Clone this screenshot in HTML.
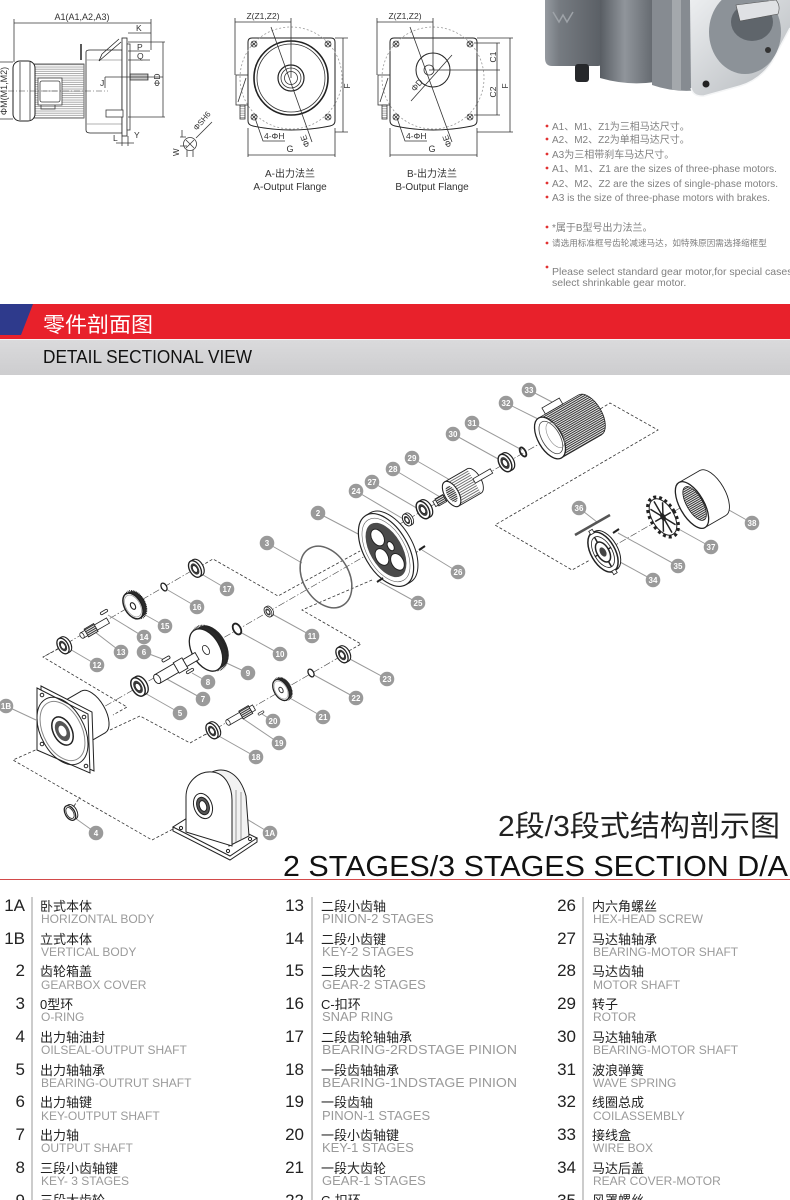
<!DOCTYPE html>
<html><head><meta charset="utf-8"><title>Gear motor detail sectional view</title>
<style>
html,body{margin:0;padding:0;background:#fff;width:790px;height:1200px;overflow:hidden}
svg{display:block}
</style></head>
<body>
<svg xmlns="http://www.w3.org/2000/svg" width="790" height="1200" viewBox="0 0 790 1200" style="font-family:'Liberation Sans','Noto Sans CJK SC',sans-serif">
<defs>
 <pattern id="hl" width="6" height="2.2" patternUnits="userSpaceOnUse"><line x1="0" y1="1" x2="6" y2="1" stroke="#888" stroke-width="0.7"/></pattern>
 <pattern id="vl" width="2" height="6" patternUnits="userSpaceOnUse"><rect width="2" height="6" fill="#fff"/><line x1="1" y1="0" x2="1" y2="6" stroke="#555" stroke-width="0.7"/></pattern>
 <pattern id="fin" width="6" height="2" patternUnits="userSpaceOnUse"><rect width="6" height="2" fill="#fff"/><rect width="6" height="1.1" fill="#333"/></pattern>
 <pattern id="fin2" width="6" height="2.4" patternUnits="userSpaceOnUse"><rect width="6" height="2.4" fill="#fff"/><rect width="6" height="0.9" fill="#666"/></pattern>
 <linearGradient id="jb" x1="0" y1="0" x2="1" y2="0"><stop offset="0" stop-color="#959aa0"/><stop offset="0.25" stop-color="#767b81"/><stop offset="1" stop-color="#5a5f65"/></linearGradient>
 <linearGradient id="bd" x1="0" y1="0" x2="1" y2="0"><stop offset="0" stop-color="#585d63"/><stop offset="0.45" stop-color="#90959b"/><stop offset="1" stop-color="#62676d"/></linearGradient>
 <linearGradient id="fl" x1="0" y1="0" x2="1" y2="1"><stop offset="0" stop-color="#eceef0"/><stop offset="1" stop-color="#b4b8bc"/></linearGradient>
 <linearGradient id="gb" x1="0" y1="0" x2="0" y2="1"><stop offset="0" stop-color="#dadadc"/><stop offset="1" stop-color="#cdcdcf"/></linearGradient>
 <g id="brg">
  <ellipse cx="3.5" rx="6" ry="10" fill="#fff" stroke="#222" stroke-width="1.3"/>
  <rect x="0" y="-10" width="3.5" height="20" fill="#fff"/>
  <path d="M0,-10H3.5M0,10H3.5" stroke="#222" stroke-width="1.3"/>
  <ellipse rx="6" ry="10" fill="#fff" stroke="#222" stroke-width="1.5"/>
  <ellipse rx="4" ry="6.8" fill="#3a3a3a"/>
  <ellipse rx="2.3" ry="4" fill="#fff" stroke="#222" stroke-width="0.7"/>
 </g>
 <g id="gear">
  <ellipse cx="3" rx="6" ry="10" fill="#2a2a2a"/>
  <rect x="0" y="-10" width="3" height="20" fill="#2a2a2a"/>
  <ellipse cx="2" rx="6.6" ry="10.6" fill="none" stroke="#222" stroke-width="1.4" stroke-dasharray="0.6 0.6"/>
  <ellipse rx="6" ry="10" fill="#fff" stroke="#222" stroke-width="1.1"/>
  <ellipse rx="5" ry="8.5" fill="none" stroke="#999" stroke-width="0.5"/>
  <ellipse rx="1.6" ry="2.6" fill="#fff" stroke="#222" stroke-width="0.8"/>
 </g>
 <g id="ring"><ellipse rx="2.6" ry="4.2" fill="#fff" stroke="#222" stroke-width="1.3"/></g>
 <g id="key"><rect x="-4" y="-1.3" width="8" height="2.6" rx="1.3" fill="#fff" stroke="#222" stroke-width="0.8"/></g>
</defs>
<rect width="790" height="1200" fill="#fff"/>

<!-- ============ TOP LEFT SIDE VIEW ============ -->
<g fill="none" stroke="#3a3a3a" stroke-width="0.8">
 <path d="M14,23H151M14,19V62M151,19V50"/>
 <path d="M0,62H13M0,119H13"/>
 <rect x="34" y="64" width="50" height="54" fill="#fff"/>
 <rect x="34" y="64" width="50" height="54" fill="url(#hl)" stroke="none"/>
 <rect x="13" y="61" width="22" height="60" rx="7" fill="#fff" stroke="#222" stroke-width="1"/>
 <path d="M20,62V120M30,62V120"/>
 <rect x="38" y="78" width="24" height="27" fill="#fff"/>
 <rect x="40" y="81" width="20" height="21" rx="2"/>
 <path d="M43,91H57" stroke="#999"/>
 <path d="M41,105V109H55V105"/>
 <path d="M86,52Q86,50 90,50H122V133H90Q86,133 86,130Z" fill="#fff" stroke="#222"/>
 <path d="M86,60H122M86,124H122" stroke="#999"/>
 <path d="M81,44V60" stroke="#222" stroke-width="1.5"/>
 <path d="M99,61L121,42M102,54L119,39M99,61L102,54" stroke="#222"/>
 <rect x="122" y="38" width="5" height="98" fill="#fff" stroke="#222"/>
 <rect x="127" y="44" width="3" height="86" fill="#fff"/>
 <rect x="106" y="110" width="17" height="7" fill="#fff"/>
 <rect x="130" y="74" width="18" height="6" fill="url(#vl)"/>
 <path d="M8,91H108" stroke-dasharray="6 2 1 2" stroke-width="0.6"/>
 <path d="M128,33H151M128,42H165M128,51H150M128,60H150M128,117H165M163,42V117"/>
 <path d="M105,77H163M105,77V88"/>
 <path d="M122,136V146M128,136V146M116,143H134"/>
 <circle cx="190" cy="144" r="6.5" fill="#fff"/>
 <path d="M186,140L194,148M194,140L186,148"/>
 <path d="M187,150V157M193,150V157M196,138L212,122"/>
 <path d="M180,137H186M180,146H187M182,130V137"/>
</g>
<g font-size="8.5" fill="#333">
 <text x="82" y="20" text-anchor="middle" font-size="9">A1(A1,A2,A3)</text>
 <text x="136" y="31">K</text>
 <text x="137" y="50">P</text>
 <text x="137" y="59">Q</text>
 <text x="100" y="86">J</text>
 <text x="134" y="138">Y</text>
 <text x="113" y="141">L</text>
 <text transform="translate(160,80) rotate(-90)" text-anchor="middle">ΦD</text>
 <text transform="translate(7,91) rotate(-90)" text-anchor="middle" font-size="9">ΦM(M1,M2)</text>
 <text transform="translate(197,131) rotate(-50)" font-size="8">ΦSH6</text>
 <text transform="translate(179,156) rotate(-90)" font-size="8">W</text>
</g>

<!-- ============ FLANGE A ============ -->
<g fill="none" stroke="#333" stroke-width="0.8">
 <rect x="236" y="75" width="12" height="30" fill="#fff"/>
 <path d="M238,102L246,78"/>
 <rect x="240" y="105" width="5" height="14" fill="url(#hl)"/>
 <path d="M248,42Q248,38 252,38H331Q335,38 335,42V121Q335,125 330,126Q291,134 253,126Q248,125 248,121Z" fill="#fff" stroke="#222" stroke-width="1"/>
 <circle cx="291" cy="78" r="51" stroke="#999" stroke-dasharray="2 2"/>
 <circle cx="291" cy="78" r="37" stroke="#222" stroke-width="1.6"/>
 <circle cx="291" cy="78" r="34"/>
 <circle cx="291" cy="78" r="13" stroke="#222" stroke-width="1.2"/>
 <circle cx="291" cy="78" r="10"/>
 <circle cx="291" cy="78" r="6.5"/>
 <circle cx="254" cy="44" r="3"/><path d="M251.5,41.5l5,5m0,-5l-5,5"/>
 <circle cx="328" cy="44" r="3"/><path d="M325.5,41.5l5,5m0,-5l-5,5"/>
 <circle cx="254" cy="117" r="3"/><path d="M251.5,114.5l5,5m0,-5l-5,5"/>
 <circle cx="328" cy="117" r="3"/><path d="M325.5,114.5l5,5m0,-5l-5,5"/>
 <path d="M235,22H291M235,18V75M291,18V78"/>
 <path d="M335,38H348M335,132H348M343,38V132"/>
 <path d="M248,128V157M335,128V157M248,155H335"/>
 <path d="M255,118L263,141H285"/>
 <path d="M271,27L312,142"/>
</g>
<!-- ============ FLANGE B ============ -->
<g fill="none" stroke="#333" stroke-width="0.8">
 <rect x="378" y="75" width="12" height="30" fill="#fff"/>
 <path d="M380,102L388,78"/>
 <rect x="382" y="105" width="5" height="14" fill="url(#hl)"/>
 <path d="M390,42Q390,38 394,38H473Q477,38 477,42V121Q477,125 472,126Q433,134 395,126Q390,125 390,121Z" fill="#fff" stroke="#222" stroke-width="1"/>
 <circle cx="433" cy="78" r="51" stroke="#999" stroke-dasharray="2 2"/>
 <circle cx="433" cy="70" r="17" stroke="#222" stroke-width="1"/>
 <circle cx="429" cy="70" r="5"/>
 <path d="M429,70H500"/>
 <path d="M411,101L452,55"/>
 <circle cx="396" cy="44" r="3"/><path d="M393.5,41.5l5,5m0,-5l-5,5"/>
 <circle cx="470" cy="44" r="3"/><path d="M467.5,41.5l5,5m0,-5l-5,5"/>
 <circle cx="396" cy="117" r="3"/><path d="M393.5,114.5l5,5m0,-5l-5,5"/>
 <circle cx="470" cy="117" r="3"/><path d="M467.5,114.5l5,5m0,-5l-5,5"/>
 <path d="M377,22H433M377,18V75M433,18V70"/>
 <path d="M474,43H500M474,115H500M497,43V115"/>
 <path d="M477,38H513M477,132H513M510,38V132"/>
 <path d="M390,128V157M477,128V157M390,155H477"/>
 <path d="M397,118L405,141H427"/>
 <path d="M410,27L452,142"/>
</g>
<g font-size="8.5" fill="#333">
 <text x="263" y="19" text-anchor="middle">Z(Z1,Z2)</text>
 <text x="405" y="19" text-anchor="middle">Z(Z1,Z2)</text>
 <text transform="translate(350,86) rotate(-90)" text-anchor="middle">F</text>
 <text transform="translate(508,86) rotate(-90)" text-anchor="middle">F</text>
 <text transform="translate(496,57) rotate(-90)" text-anchor="middle">C1</text>
 <text transform="translate(496,92) rotate(-90)" text-anchor="middle">C2</text>
 <text x="290" y="152" text-anchor="middle" font-size="9">G</text>
 <text x="432" y="152" text-anchor="middle" font-size="9">G</text>
 <text x="264" y="139">4-ΦH</text>
 <text x="406" y="139">4-ΦH</text>
 <text transform="translate(310,146) rotate(-110)">ΦE</text>
 <text transform="translate(452,146) rotate(-110)">ΦE</text>
 <text transform="translate(415,92) rotate(-50)">ΦD</text>
</g>
<g font-size="10" fill="#333" text-anchor="middle">
 <text x="290" y="177">A-出力法兰</text>
 <text x="290" y="190">A-Output Flange</text>
 <text x="432" y="177">B-出力法兰</text>
 <text x="432" y="190">B-Output Flange</text>
</g>

<!-- ============ MOTOR PHOTO ============ -->
<path d="M545,0H602V62Q602,66 598,66H552Q545,66 545,58Z" fill="url(#jb)"/>
<path d="M600,0H655V82Q628,86 600,78Z" fill="url(#bd)"/>
<path d="M652,0H700V90Q675,93 652,85Z" fill="#868b91"/>
<rect x="672" y="0" width="9" height="90" fill="#a4a8ac"/>
<rect x="575" y="64" width="14" height="18" rx="3" fill="#26282b"/>
<path d="M690,0H790V28L772,62Q760,80 740,86L704,96Q693,97 691,88Z" fill="url(#fl)"/>
<path d="M691,88Q693,97 704,96L740,86Q760,80 772,62L790,28" fill="none" stroke="#f4f5f6" stroke-width="1.5"/>
<ellipse cx="745" cy="32" rx="36" ry="42" fill="#8c9298"/>
<ellipse cx="752" cy="22" rx="21" ry="19" fill="#5f656b"/>
<path d="M736,5L776,0Q781,6 778,14L740,21Z" fill="#dfe1e4" stroke="#555" stroke-width="0.6"/>
<circle cx="706" cy="84" r="3.5" fill="#222"/>
<circle cx="768" cy="50" r="3" fill="#333"/>
<path d="M553,12l6,10l4,-7l4,7l6,-10" fill="none" stroke="#9ea3a8" stroke-width="1.5"/>

<!-- ============ BULLETS ============ -->
<g fill="#e23232">
 <circle cx="547" cy="126" r="1.4"/><circle cx="547" cy="139" r="1.4"/><circle cx="547" cy="154" r="1.4"/>
 <circle cx="547" cy="168" r="1.4"/><circle cx="547" cy="183" r="1.4"/><circle cx="547" cy="197" r="1.4"/>
 <circle cx="547" cy="227" r="1.4"/><circle cx="547" cy="243" r="1.4"/><circle cx="547" cy="267" r="1.4"/>
</g>
<g font-size="10" fill="#808080">
 <text x="552" y="130">A1、M1、Z1为三相马达尺寸。</text>
 <text x="552" y="143">A2、M2、Z2为单相马达尺寸。</text>
 <text x="552" y="158">A3为三相带刹车马达尺寸。</text>
 <text x="552" y="172" textLength="225" lengthAdjust="spacingAndGlyphs">A1、M1、Z1 are the sizes of three-phase motors.</text>
 <text x="552" y="187" textLength="226" lengthAdjust="spacingAndGlyphs">A2、M2、Z2 are the sizes of single-phase motors.</text>
 <text x="552" y="201" textLength="218" lengthAdjust="spacingAndGlyphs">A3 is the size of three-phase motors with brakes.</text>
 <text x="552" y="231">*属于B型号出力法兰。</text>
 <text x="552" y="246" font-size="8.6">请选用标准框号齿轮减速马达，如特殊原因需选择缩框型</text>
 <text x="552" y="275" font-size="10.5">Please select standard gear motor,for special cases</text>
 <text x="552" y="286" font-size="10.5">select shrinkable gear motor.</text>
</g>

<!-- ============ BANNER ============ -->
<rect x="0" y="304" width="790" height="35" fill="#e8212b"/>
<polygon points="0,304 33,304 21,335 0,335" fill="#2e3a8c"/>
<rect x="0" y="339" width="790" height="1" fill="#f4f4f4"/>
<rect x="0" y="340" width="790" height="35" fill="url(#gb)"/>
<text x="43" y="332" font-size="21" fill="#fff" textLength="110" lengthAdjust="spacingAndGlyphs">零件剖面图</text>
<text x="43" y="363" font-size="18" fill="#111" textLength="209" lengthAdjust="spacingAndGlyphs">DETAIL SECTIONAL VIEW</text>

<!-- ============ EXPLODED VIEW ============ -->
<g stroke="#444" stroke-width="0.6" stroke-dasharray="7 2 1.5 2" fill="none">
 <path d="M45,656L200,566"/>
 <path d="M62,731L365,556"/>
 <path d="M205,735L350,651"/>
 <path d="M398,525L600,409"/>
 <path d="M598,555L722,484"/>
</g>
<g stroke="#333" stroke-width="0.8" stroke-dasharray="3 2" fill="none">
 <path d="M201,566L213,559L278,596L360,551"/>
 <path d="M372,580L302,610L361,644L347,652"/>
 <path d="M58,649L43,657L127,707L113,715"/>
 <path d="M110,730L140,716L190,743L206,734"/>
 <path d="M40,748L13,760L152,840L175,828"/>
 <path d="M74,806L80,797"/>
 <path d="M592,414L610,403L658,430L495,525L572,570L590,560"/>
 <path d="M422,549L396,564"/>
</g>
<!-- leaders -->
<g stroke="#9a9a9a" stroke-width="1" fill="none">
 <path d="M529,390L552,402M506,403L540,420M472,423L522,450M453,434L500,460M412,458L450,480M393,469L440,497M372,482L420,510M356,491L405,520M318,513L360,535M267,543L302,563M458,572L422,550M418,603L380,582"/>
 <path d="M227,589L198,572M197,607L166,589M165,626L140,612M144,637L108,615M121,652L95,632M144,652L165,660M97,665L68,648M312,636L272,614M280,654L240,632M248,673L220,660M208,682L192,673M203,699L165,678M180,713L143,692"/>
 <path d="M387,679L348,658M356,698L314,675M323,717L288,697M273,721L262,714M279,743L242,718M256,757L217,735M6,706L36,720M96,833L75,818M270,833L245,818"/>
 <path d="M579,508L597,522M752,523L720,505M711,547L675,527M678,566L618,533M653,580L620,562"/>
</g>

<!-- 1B vertical body -->
<g stroke="#222" stroke-width="1" fill="#fff">
 <g transform="translate(62,730) rotate(-30)">
  <ellipse cx="36" rx="12" ry="24"/>
  <rect x="0" y="-24" width="36" height="48" stroke="none"/>
  <path d="M0,-24H36M0,24H36"/>
 </g>
 <polygon points="41,686 92,712 94,771 41,748"/>
 <polygon points="37,688 88,714 90,773 37,750"/>
 <circle r="1" transform="matrix(25.5 13 0 31 62.5 731)" fill="none" stroke="#222" vector-effect="non-scaling-stroke"/>
 <circle r="0.88" transform="matrix(25.5 13 0 31 62.5 731)" fill="none" stroke="#888" vector-effect="non-scaling-stroke"/>
 <circle r="0.42" transform="matrix(25.5 13 0 31 62.5 731)" fill="#fff" stroke="#222" stroke-width="1.5" vector-effect="non-scaling-stroke"/>
 <circle r="0.3" transform="matrix(25.5 13 0 31 62.5 731)" fill="#555" stroke="none"/>
 <circle r="0.16" transform="matrix(25.5 13 0 31 62.5 731)" fill="#fff" stroke="none"/>
 <circle cx="42" cy="695" r="1.8"/><circle cx="84" cy="717" r="1.8"/><circle cx="86" cy="766" r="1.8"/><circle cx="42" cy="744" r="1.8"/>
</g>

<!-- 1A horizontal body -->
<g stroke="#222" stroke-width="1" fill="#fff">
 <path d="M173,827V831L230,860L257,842V838"/>
 <polygon points="173,827 230,856 257,838 200,810"/>
 <path d="M212,772C226,766 240,774 246,796L249,836L229,846Z" fill="#f2f2f2"/>
 <path d="M186,832V797C186,782 198,771 212,772C226,773 232,788 232,800L232,846Z"/>
 <path d="M236,790V842M241,792V840" stroke="#777" stroke-width="0.7"/>
 <ellipse cx="203" cy="806" rx="9" ry="13" transform="rotate(-20 203 806)"/>
 <ellipse cx="203" cy="806" rx="6" ry="9" fill="#555" transform="rotate(-20 203 806)"/>
 <ellipse cx="203" cy="806" rx="3.5" ry="5.5" transform="rotate(-20 203 806)"/>
 <circle cx="181" cy="828" r="1.6"/><circle cx="228" cy="851" r="1.6"/><circle cx="250" cy="839" r="1.6"/>
</g>

<!-- 4 oil seal -->
<g transform="translate(70,813) rotate(-30) scale(0.8)">
 <ellipse cx="3" rx="6" ry="10" fill="#fff" stroke="#222" stroke-width="1.2"/>
 <rect x="0" y="-10" width="3" height="20" fill="#fff"/>
 <ellipse rx="6" ry="10" fill="#fff" stroke="#222" stroke-width="1.6"/>
 <ellipse rx="4.2" ry="7.5" fill="#fff" stroke="#222" stroke-width="1"/>
</g>

<!-- stage-2 pinion line -->
<use href="#brg" transform="translate(195,569) rotate(-30) scale(0.9)"/>
<use href="#ring" transform="translate(164,587) rotate(-30)"/>
<use href="#gear" transform="translate(133,606) rotate(-30) scale(1.4)"/>
<use href="#key" transform="translate(104,612) rotate(-30)"/>
<g transform="translate(95,628) rotate(-30)">
 <rect x="-15" y="-3" width="30" height="6" fill="#fff" stroke="#222" stroke-width="0.8"/>
 <rect x="-10" y="-4.5" width="11" height="9" fill="url(#fin)" stroke="#222" stroke-width="0.8"/>
 <ellipse cx="-15" rx="1.8" ry="3" fill="#fff" stroke="#222" stroke-width="0.8"/>
</g>
<use href="#brg" transform="translate(63,646) rotate(-30) scale(0.85)"/>

<!-- output shaft line -->
<use href="#brg" transform="translate(268,612) rotate(-30) scale(0.55)"/>
<use href="#ring" transform="translate(237,629) rotate(-30) scale(1.4)"/>
<g transform="translate(206,650) rotate(-30)">
 <ellipse cx="7" rx="14" ry="23" fill="#2a2a2a"/>
 <rect x="0" y="-23" width="7" height="46" fill="#2a2a2a"/>
 <ellipse cx="4" rx="14.8" ry="24" fill="none" stroke="#222" stroke-width="2.5" stroke-dasharray="0.7 0.7"/>
 <ellipse rx="14" ry="23" fill="#fff" stroke="#222" stroke-width="1.3"/>
 <ellipse rx="3" ry="5" fill="#fff" stroke="#222" stroke-width="0.8"/>
</g>
<g transform="translate(178,667) rotate(-30)">
 <rect x="-24" y="-5" width="22" height="10" fill="#fff" stroke="#222" stroke-width="0.9"/>
 <ellipse cx="-24" rx="3" ry="5" fill="#fff" stroke="#222" stroke-width="0.9"/>
 <rect x="-2" y="-6" width="10" height="12" fill="#fff" stroke="#222" stroke-width="0.9"/>
 <rect x="8" y="-4" width="14" height="8" fill="#fff" stroke="#222" stroke-width="0.9"/>
</g>
<use href="#key" transform="translate(166,659) rotate(-30) scale(1.1)"/>
<use href="#key" transform="translate(190,671) rotate(-30)"/>
<use href="#brg" transform="translate(138,687) rotate(-30)"/>

<!-- stage-1 pinion line -->
<use href="#brg" transform="translate(342,655) rotate(-30) scale(0.85)"/>
<use href="#ring" transform="translate(311,673) rotate(-30)"/>
<use href="#gear" transform="translate(281,690) rotate(-30) scale(1.15)"/>
<use href="#key" transform="translate(261,713) rotate(-30) scale(0.8)"/>
<g transform="translate(241,715) rotate(-30)">
 <rect x="-15" y="-3" width="30" height="6" fill="#fff" stroke="#222" stroke-width="0.8"/>
 <rect x="0" y="-4.5" width="11" height="9" fill="url(#fin)" stroke="#222" stroke-width="0.8"/>
 <ellipse cx="-15" rx="1.8" ry="3" fill="#fff" stroke="#222" stroke-width="0.8"/>
</g>
<use href="#brg" transform="translate(212,731) rotate(-30) scale(0.85)"/>

<!-- O-ring 3 -->
<ellipse cx="326" cy="577" rx="23" ry="33" transform="rotate(-30 326 577)" fill="none" stroke="#666" stroke-width="1.5"/>

<!-- gearbox cover 2 -->
<g transform="translate(386,550) rotate(-30)">
 <ellipse cx="5" rx="22" ry="40" fill="#fff" stroke="#222" stroke-width="1"/>
 <rect x="0" y="-40" width="5" height="80" fill="#fff"/>
 <path d="M0,-40H5M0,40H5" stroke="#222"/>
 <ellipse rx="22" ry="40" fill="#fff" stroke="#222" stroke-width="1.2"/>
 <ellipse rx="19" ry="35" fill="none" stroke="#666" stroke-width="0.6"/>
 <ellipse rx="16" ry="30" fill="#4a4a4a"/>
 <ellipse cx="-1" cy="-15" rx="6" ry="9" fill="#fff" stroke="#222"/>
 <ellipse cx="-7" cy="4" rx="6" ry="9" fill="#fff" stroke="#222"/>
 <ellipse cx="4" cy="16" rx="6" ry="9" fill="#fff" stroke="#222"/>
 <ellipse cx="6" cy="-1" rx="3" ry="5" fill="#fff" stroke="#222"/>
</g>
<path d="M419,550L425,546M377,582L383,578" stroke="#222" stroke-width="2"/>

<!-- motor -->
<use href="#brg" transform="translate(407,520) rotate(-30) scale(0.65)"/>
<use href="#brg" transform="translate(423,510) rotate(-30) scale(0.95)"/>
<g transform="translate(462,488) rotate(-30)">
 <rect x="-32" y="-3" width="20" height="6" fill="#fff" stroke="#222" stroke-width="0.8"/>
 <rect x="-29" y="-4" width="9" height="8" fill="url(#fin)" stroke="#222" stroke-width="0.8"/>
 <ellipse cx="14" rx="7" ry="14" fill="#fff" stroke="#222" stroke-width="0.9"/>
 <rect x="-12" y="-14" width="26" height="28" fill="url(#fin2)"/>
 <path d="M-12,-14H14M-12,14H14" stroke="#222" stroke-width="0.9"/>
 <ellipse cx="-12" rx="7" ry="14" fill="#fff" stroke="#222" stroke-width="1.1"/>
 <ellipse cx="-12" rx="4.5" ry="9" fill="url(#fin)"/>
 <rect x="14" y="-2.5" width="20" height="5" fill="#fff" stroke="#222" stroke-width="0.8"/>
</g>
<use href="#brg" transform="translate(505,463) rotate(-30) scale(0.95)"/>
<g transform="translate(523,452) rotate(-30)"><ellipse rx="2.6" ry="5" fill="none" stroke="#222" stroke-width="1.8"/></g>
<g transform="translate(550,438) rotate(-30)">
 <ellipse cx="46" rx="12" ry="23" fill="url(#fin)" stroke="#222" stroke-width="0.8"/>
 <rect x="0" y="-23" width="46" height="46" fill="url(#fin)"/>
 <path d="M0,-23H46M0,23H46" stroke="#222" stroke-width="0.8"/>
 <rect x="8" y="-30" width="20" height="7" fill="#fff" stroke="#222" stroke-width="0.8"/>
 <ellipse rx="12" ry="23" fill="#fff" stroke="#222" stroke-width="1.3"/>
 <ellipse cx="1" rx="9" ry="18" fill="#fff" stroke="#444" stroke-width="0.8"/>
 <ellipse cx="6" rx="7" ry="14" fill="none" stroke="#888" stroke-width="0.6"/>
</g>

<!-- rear section -->
<path d="M575,535L610,515" stroke="#555" stroke-width="2.5"/>
<path d="M613,533L619,529" stroke="#222" stroke-width="2"/>
<g transform="translate(603,552) rotate(-30)">
 <ellipse cx="3" rx="12" ry="22" fill="#fff" stroke="#222" stroke-width="1"/>
 <ellipse rx="12" ry="22" fill="#fff" stroke="#222" stroke-width="1.5"/>
 <ellipse rx="9" ry="17" fill="none" stroke="#222" stroke-width="0.8"/>
 <ellipse rx="6" ry="11" fill="none" stroke="#222" stroke-width="1.5"/>
 <ellipse rx="3" ry="5" fill="#444"/>
 <path d="M0,-17V-11M0,11V17M-9,0H-6M6,0H9" stroke="#222" stroke-width="1.5"/>
 <rect x="-2" y="-25" width="4" height="4" fill="#fff" stroke="#222" stroke-width="0.8"/>
 <rect x="-2" y="21" width="4" height="4" fill="#fff" stroke="#222" stroke-width="0.8"/>
</g>
<g transform="translate(663,517) rotate(-30)">
 <ellipse rx="12.5" ry="22" fill="none" stroke="#222" stroke-width="3" stroke-dasharray="3 3"/>
 <ellipse rx="11" ry="20" fill="#fff" stroke="#222" stroke-width="1"/>
 <path d="M0,-18V18M-9,0H9M-7,-13L7,13M7,-13L-7,13" stroke="#222" stroke-width="1.5"/>
 <ellipse rx="2.5" ry="4" fill="#222"/>
</g>
<g transform="translate(692,505) rotate(-30)">
 <ellipse cx="24" rx="12" ry="26" fill="#fff" stroke="#222" stroke-width="0.9"/>
 <rect x="0" y="-26" width="24" height="52" fill="#fff"/>
 <path d="M0,-26H24M0,26H24" stroke="#222" stroke-width="0.9"/>
 <ellipse rx="12" ry="26" fill="#fff" stroke="#222" stroke-width="1.3"/>
 <ellipse cx="3" rx="8" ry="19" fill="url(#fin)" stroke="#222" stroke-width="0.8"/>
</g>

<!-- callouts -->
<g fill="#9a9a9a">
 <circle cx="529" cy="390" r="7.3"/><circle cx="506" cy="403" r="7.3"/><circle cx="472" cy="423" r="7.3"/><circle cx="453" cy="434" r="7.3"/>
 <circle cx="412" cy="458" r="7.3"/><circle cx="393" cy="469" r="7.3"/><circle cx="372" cy="482" r="7.3"/><circle cx="356" cy="491" r="7.3"/>
 <circle cx="318" cy="513" r="7.3"/><circle cx="267" cy="543" r="7.3"/><circle cx="458" cy="572" r="7.3"/><circle cx="418" cy="603" r="7.3"/>
 <circle cx="227" cy="589" r="7.3"/><circle cx="197" cy="607" r="7.3"/><circle cx="165" cy="626" r="7.3"/><circle cx="144" cy="637" r="7.3"/>
 <circle cx="121" cy="652" r="7.3"/><circle cx="144" cy="652" r="7.3"/><circle cx="97" cy="665" r="7.3"/><circle cx="312" cy="636" r="7.3"/>
 <circle cx="280" cy="654" r="7.3"/><circle cx="248" cy="673" r="7.3"/><circle cx="208" cy="682" r="7.3"/><circle cx="203" cy="699" r="7.3"/>
 <circle cx="180" cy="713" r="7.3"/><circle cx="387" cy="679" r="7.3"/><circle cx="356" cy="698" r="7.3"/><circle cx="323" cy="717" r="7.3"/>
 <circle cx="273" cy="721" r="7.3"/><circle cx="279" cy="743" r="7.3"/><circle cx="256" cy="757" r="7.3"/><circle cx="6" cy="706" r="7.3"/>
 <circle cx="96" cy="833" r="7.3"/><circle cx="270" cy="833" r="7.3"/><circle cx="579" cy="508" r="7.3"/><circle cx="752" cy="523" r="7.3"/>
 <circle cx="711" cy="547" r="7.3"/><circle cx="678" cy="566" r="7.3"/><circle cx="653" cy="580" r="7.3"/>
</g>
<g fill="#fff" font-size="8" font-weight="bold" text-anchor="middle">
 <text x="529" y="393">33</text><text x="506" y="406">32</text><text x="472" y="426">31</text><text x="453" y="437">30</text>
 <text x="412" y="461">29</text><text x="393" y="472">28</text><text x="372" y="485">27</text><text x="356" y="494">24</text>
 <text x="318" y="516">2</text><text x="267" y="546">3</text><text x="458" y="575">26</text><text x="418" y="606">25</text>
 <text x="227" y="592">17</text><text x="197" y="610">16</text><text x="165" y="629">15</text><text x="144" y="640">14</text>
 <text x="121" y="655">13</text><text x="144" y="655">6</text><text x="97" y="668">12</text><text x="312" y="639">11</text>
 <text x="280" y="657">10</text><text x="248" y="676">9</text><text x="208" y="685">8</text><text x="203" y="702">7</text>
 <text x="180" y="716">5</text><text x="387" y="682">23</text><text x="356" y="701">22</text><text x="323" y="720">21</text>
 <text x="273" y="724">20</text><text x="279" y="746">19</text><text x="256" y="760">18</text><text x="6" y="709">1B</text>
 <text x="96" y="836">4</text><text x="270" y="836">1A</text><text x="579" y="511">36</text><text x="752" y="526">38</text>
 <text x="711" y="550">37</text><text x="678" y="569">35</text><text x="653" y="583">34</text>
</g>

<!-- ============ TITLE ============ -->
<text x="498" y="836" font-size="29" fill="#222" textLength="282" lengthAdjust="spacingAndGlyphs">2段/3段式结构剖示图</text>
<text x="283" y="876" font-size="29" fill="#111" textLength="505" lengthAdjust="spacingAndGlyphs">2 STAGES/3 STAGES SECTION D/A</text>
<rect x="0" y="879" width="790" height="1" fill="#d24a4a"/>

<!-- ============ TABLE ============ -->
<rect x="31" y="897" width="2" height="303" fill="#cccccc"/>
<rect x="311" y="897" width="2" height="303" fill="#cccccc"/>
<rect x="582" y="897" width="2" height="303" fill="#cccccc"/>
<g font-size="17" fill="#222" text-anchor="end">
 <text x="25" y="911">1A</text><text x="25" y="944">1B</text><text x="25" y="976">2</text><text x="25" y="1009">3</text><text x="25" y="1042">4</text>
 <text x="25" y="1075">5</text><text x="25" y="1107">6</text><text x="25" y="1140">7</text><text x="25" y="1173">8</text><text x="25" y="1206">9</text>
 <text x="304" y="911">13</text><text x="304" y="944">14</text><text x="304" y="976">15</text><text x="304" y="1009">16</text><text x="304" y="1042">17</text>
 <text x="304" y="1075">18</text><text x="304" y="1107">19</text><text x="304" y="1140">20</text><text x="304" y="1173">21</text><text x="304" y="1206">22</text>
 <text x="576" y="911">26</text><text x="576" y="944">27</text><text x="576" y="976">28</text><text x="576" y="1009">29</text><text x="576" y="1042">30</text>
 <text x="576" y="1075">31</text><text x="576" y="1107">32</text><text x="576" y="1140">33</text><text x="576" y="1173">34</text><text x="576" y="1206">35</text>
</g>
<g font-size="13" fill="#222">
 <text x="40" y="911">卧式本体</text><text x="40" y="944">立式本体</text><text x="40" y="976">齿轮箱盖</text><text x="40" y="1009">0型环</text><text x="40" y="1042">出力轴油封</text>
 <text x="40" y="1075">出力轴轴承</text><text x="40" y="1107">出力轴键</text><text x="40" y="1140">出力轴</text><text x="40" y="1173">三段小齿轴键</text><text x="40" y="1205">三段大齿轮</text>
 <text x="321" y="911">二段小齿轴</text><text x="321" y="944">二段小齿键</text><text x="321" y="976">二段大齿轮</text><text x="321" y="1009">C-扣环</text><text x="321" y="1042">二段齿轮轴轴承</text>
 <text x="321" y="1075">一段齿轴轴承</text><text x="321" y="1107">一段齿轴</text><text x="321" y="1140">一段小齿轴键</text><text x="321" y="1173">一段大齿轮</text><text x="321" y="1205">C-扣环</text>
 <text x="592" y="911">内六角螺丝</text><text x="592" y="944">马达轴轴承</text><text x="592" y="976">马达齿轴</text><text x="592" y="1009">转子</text><text x="592" y="1042">马达轴轴承</text>
 <text x="592" y="1075">波浪弹簧</text><text x="592" y="1107">线圈总成</text><text x="592" y="1140">接线盒</text><text x="592" y="1173">马达后盖</text><text x="592" y="1205">风罩螺丝</text>
</g>
<g font-size="12" fill="#9a9a9a">
 <text x="41" y="923">HORIZONTAL BODY</text><text x="41" y="956">VERTICAL BODY</text><text x="41" y="989">GEARBOX COVER</text><text x="41" y="1021">O-RING</text>
 <text x="41" y="1054">OILSEAL-OUTPUT SHAFT</text><text x="41" y="1087">BEARING-OUTRUT SHAFT</text><text x="41" y="1120">KEY-OUTPUT SHAFT</text><text x="41" y="1152">OUTPUT SHAFT</text><text x="41" y="1185">KEY- 3 STAGES</text>
 <text x="322" y="923" font-size="13">PINION-2 STAGES</text><text x="322" y="956" font-size="13">KEY-2 STAGES</text><text x="322" y="989" font-size="13">GEAR-2 STAGES</text><text x="322" y="1021" font-size="13">SNAP RING</text>
 <text x="322" y="1054" font-size="13" textLength="195" lengthAdjust="spacingAndGlyphs">BEARING-2RDSTAGE PINION</text><text x="322" y="1087" font-size="13" textLength="195" lengthAdjust="spacingAndGlyphs">BEARING-1NDSTAGE PINION</text>
 <text x="322" y="1120" font-size="13">PINON-1 STAGES</text><text x="322" y="1152" font-size="13">KEY-1 STAGES</text><text x="322" y="1185" font-size="13">GEAR-1 STAGES</text>
 <text x="593" y="923">HEX-HEAD SCREW</text><text x="593" y="956">BEARING-MOTOR SHAFT</text><text x="593" y="989">MOTOR SHAFT</text><text x="593" y="1021">ROTOR</text>
 <text x="593" y="1054">BEARING-MOTOR SHAFT</text><text x="593" y="1087">WAVE SPRING</text><text x="593" y="1120">COILASSEMBLY</text><text x="593" y="1152">WIRE BOX</text><text x="593" y="1185">REAR COVER-MOTOR</text>
</g>
</svg>
</body></html>
